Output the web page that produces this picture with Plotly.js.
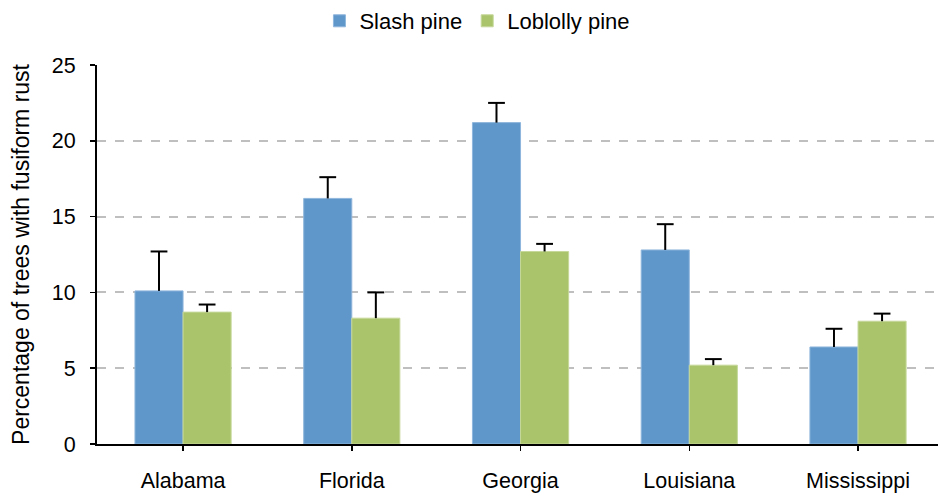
<!DOCTYPE html>
<html><head><meta charset="utf-8">
<script src="https://cdn.plot.ly/plotly-3.0.1.min.js"></script>
<style>html,body{margin:0;padding:0;background:#fff}</style>
</head><body>
<div id="chart" style="width:938px;height:495px"></div>
<script>
const categories = ["Alabama", "Florida", "Georgia", "Louisiana", "Mississippi"];
const slashPine = [10.1, 16.2, 21.2, 12.8, 6.4];
const slashErr = [2.6, 1.4, 1.3, 1.7, 1.2];
const loblollyPine = [8.7, 8.3, 12.7, 5.2, 8.1];
const loblollyErr = [0.5, 1.7, 0.5, 0.4, 0.5];
const yTicks = [0, 5, 10, 15, 20, 25];

function errTrace(vals, errs) {
  return {
    type: "scatter", mode: "markers", showlegend: false, hoverinfo: "skip",
    x: categories, y: vals.map((v, i) => v + errs[i]),
    marker: {symbol: "line-ew-open", size: 12, color: "#000", line: {color: "#000", width: 2}},
    error_y: {type: "data", symmetric: false, array: errs.map(() => 0), arrayminus: errs,
              color: "#000", thickness: 2, width: 0}
  };
}

const traces = [
  {type: "bar", name: "Slash pine", x: categories, y: slashPine,
   marker: {color: "#5f97ca", line: {color: "#8fb6dc", width: 1}}},
  {type: "bar", name: "Loblolly pine", x: categories, y: loblollyPine,
   marker: {color: "#a9c46b", line: {color: "#c6d89a", width: 1}}},
  errTrace(slashPine, slashErr),
  errTrace(loblollyPine, loblollyErr)
];

const layout = {
  width: 938, height: 495,
  margin: {l: 97, r: 0, t: 65, b: 51},
  paper_bgcolor: "#fff", plot_bgcolor: "#fff",
  font: {family: "Liberation Sans, Arial, sans-serif", color: "#000", size: 21},
  barmode: "group", bargap: 0.43, bargroupgap: 0,
  scattermode: "group", scattergap: 0.43,
  showlegend: true,
  legend: {orientation: "h", x: 0.509, xanchor: "center", xref: "container",
           y: 1, yanchor: "top", yref: "container",
           font: {size: 22}, itemwidth: 30, traceorder: "normal"},
  xaxis: {type: "category", range: [-0.51, 4.474], showline: true, linecolor: "#000", linewidth: 2,
          ticks: "outside", ticklen: 5, tickcolor: "#000", tickwidth: 1.5, showgrid: false,
          tickfont: {size: 21.5}, ticklabelstandoff: 11, fixedrange: true},
  yaxis: {range: [0, 25], tickvals: yTicks, showline: true, linecolor: "#000", linewidth: 2,
          ticks: "outside", ticklen: 5, tickcolor: "#000", tickwidth: 1.5,
          showgrid: true, gridcolor: "#bfbfbf", gridwidth: 2, griddash: "dash",
          zeroline: false, tickfont: {size: 21.5}, ticklabelstandoff: 10,
          title: {text: "Percentage of trees with fusiform rust", font: {size: 23}, standoff: 16}}
};
Plotly.newPlot("chart", traces, layout, {displayModeBar: false, staticPlot: true});
</script>
</body></html>
